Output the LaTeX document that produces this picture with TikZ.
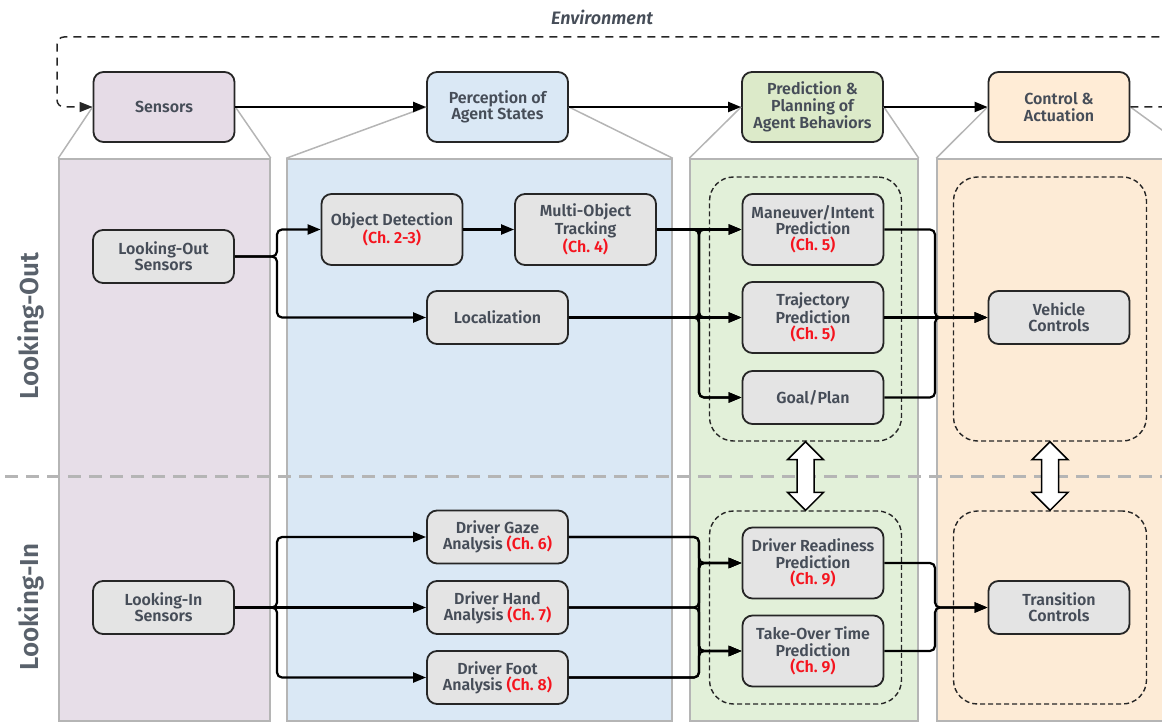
\documentclass[tikz,border=0pt]{standalone}
\usepackage{fontspec}
\setmainfont{Fira Sans}[BoldFont={Fira Sans SemiBold},BoldItalicFont={Fira Sans SemiBold Italic}]
\usepackage{tikz}
\usetikzlibrary{calc,arrows.meta}
\definecolor{Ink}{HTML}{464D58}
\definecolor{SideInk}{HTML}{59616B}
\definecolor{ChRed}{HTML}{F5141E}
\definecolor{BoxGrey}{HTML}{E4E4E4}
\definecolor{Guide}{HTML}{B5B5B5}
\definecolor{SensFill}{HTML}{E6DCE7}
\definecolor{PercFill}{HTML}{DAE8F5}
\definecolor{PredFill}{HTML}{DCEAC9}
\definecolor{CtrlFill}{HTML}{FFECD6}
\definecolor{SensPanel}{HTML}{E7DEE8}
\definecolor{PercPanel}{HTML}{DAE8F5}
\definecolor{PredPanel}{HTML}{E2F0D9}
\definecolor{CtrlPanel}{HTML}{FDEBD6}
\newcommand{\chnum}[1]{\textcolor{ChRed}{(Ch.~#1)}}

\begin{document}
\begin{tikzpicture}[x=1pt,y=-1pt,
 lab/.style={font=\fontsize{16}{16.2}\selectfont\bfseries,text=Ink,align=center},
 stage/.style={lab,draw=black!85,line width=1.8pt,rounded corners=10pt,
   minimum width=141pt,minimum height=70pt,inner sep=2pt},
 box/.style={stage,fill=BoxGrey},
 short/.style={minimum height=53pt},
 tall/.style={minimum height=71pt},
 panel/.style={draw=Guide,line width=1.5pt,minimum height=562pt,inner sep=0pt},
 grp/.style={draw=black!85,line width=1.4pt,dash pattern=on 5pt off 3pt,
   rounded corners=24pt,inner sep=0pt},
 arr/.style={line width=2.2pt,rounded corners=5pt,-{Triangle[length=13pt,width=10pt]}},
 side/.style={font=\fontsize{26}{26}\selectfont\bfseries,text=SideInk,rotate=90}]
\useasboundingbox (0,0) rectangle (1162,722);

% columns
\node[panel,fill=SensPanel,minimum width=211pt] (pSens) at (164.5,440) {};
\node[panel,fill=PercPanel,minimum width=385pt] (pPerc) at (479.5,440) {};
\node[panel,fill=PredPanel,minimum width=228pt] (pPred) at (804,440) {};
\node[panel,fill=CtrlPanel,minimum width=263pt] (pCtrl) at (1068.5,440) {};
\draw[Guide,line width=3pt,dash pattern=on 13pt off 8pt] (5,476) -- (1170,476);

% top row
\node[stage,fill=SensFill] (sens) at (164,107) {Sensors};
\node[stage,fill=PercFill] (perc) at (497.5,107) {Perception of\\Agent States};
\node[stage,fill=PredFill] (pred) at (812.5,107) {Prediction \&\\Planning of\\Agent Behaviors};
\node[stage,fill=CtrlFill] (ctrl) at (1059,107) {Control \&\\Actuation};
\foreach \b/\p in {sens/pSens,perc/pPerc,pred/pPred,ctrl/pCtrl} {
  \draw[Guide,line width=1.5pt] (\b.west) -- (\p.north west);
  \draw[Guide,line width=1.5pt] (\b.east) -- (\p.north east);}
\draw[arr] (sens) -- (perc);
\draw[arr] (perc) -- (pred);
\draw[arr] (pred) -- (ctrl);

% environment loop
\coordinate (envR) at (1190,107);
\coordinate (envL) at (57,37);
\draw[arr,dash pattern=on 8pt off 6pt,rounded corners=7pt,line width=1.5pt,black!85]
  (ctrl.east) -- (envR) |- (envL) |- (sens.west);
\node[lab,font=\fontsize{18}{18}\selectfont\bfseries\itshape] (env) at (602,17) {Environment};

\node[side] (lout) at (31,326) {Looking-Out};
\node[side] (lin) at (31,607) {Looking-In};

% groups
\node[grp,minimum width=192pt,minimum height=264pt] (gu) at (805.5,309) {};
\node[grp,minimum width=192pt,minimum height=193pt] (gl) at (805.5,607.5) {};
\node[grp,minimum width=193pt,minimum height=264pt] (ou) at (1050,309) {};
\node[grp,minimum width=193pt,minimum height=193pt] (ol) at (1050,607.5) {};

% looking-out
\node[box,short] (los) at (163.5,256.5) {Looking-Out\\Sensors};
\node[box,tall] (od) at (392,229.5) {Object Detection\\\chnum{2-3}};
\node[box,tall] (mot) at (585.5,229.5) {Multi-Object\\Tracking\\\chnum{4}};
\node[box,short] (loc) at (497.5,317.5) {Localization};
\node[box,tall] (mi) at (813,229.5) {Maneuver/Intent\\Prediction\\\chnum{5}};
\node[box,tall] (tp) at (813,317.5) {Trajectory\\Prediction\\\chnum{5}};
\node[box,short] (gp) at (813,397.5) {Goal/Plan};
\node[box,short] (vc) at (1059,317.5) {Vehicle\\Controls};

% looking-in
\node[box,short] (lis) at (163.5,607.5) {Looking-In\\Sensors};
\node[box,short] (gaze) at (497.5,537) {Driver Gaze\\Analysis \chnum{6}};
\node[box,short] (hand) at (497.5,607.5) {Driver Hand\\Analysis \chnum{7}};
\node[box,short] (foot) at (497.5,677.5) {Driver Foot\\Analysis \chnum{8}};
\node[box,tall] (dr) at (813,563) {Driver Readiness\\Prediction\\\chnum{9}};
\node[box,tall] (tot) at (813,651) {Take-Over Time\\Prediction\\\chnum{9}};
\node[box,short] (tc) at (1059,607.5) {Transition\\Controls};

\coordinate (bl) at (277,0);
\coordinate (inG) at (699,0);
\coordinate (outG) at (935,0);

\foreach \a/\b in {los/od,los/loc,lis/gaze,lis/foot}
  \draw[arr] (\a.east) -- (\a.east -| bl) |- (\b.west);
\foreach \a/\b in {mot/tp,mot/gp,loc/mi,loc/gp,gaze/dr,gaze/tot,hand/dr,hand/tot,foot/dr,foot/tot}
  \draw[arr] (\a.east) -- (\a.east -| inG) |- (\b.west);
\foreach \a/\b in {mi/vc,gp/vc,dr/tc,tot/tc}
  \draw[arr] (\a.east) -- (\a.east -| outG) |- (\b.west);
\draw[arr] (od) -- (mot);
\draw[arr] (lis) -- (hand);
\draw[arr] (mot) -- (mi);
\draw[arr] (loc) -- (tp);
\draw[arr] (tp) -- (vc);

% hand-over arrows
\foreach \u/\l in {gu/gl,ou/ol} {
  \coordinate (t) at (\u.south);
  \coordinate (b) at (\l.north);
  \draw[line width=1.5pt,fill=white,line join=miter]
    (t) -- ++(18,18) -- ++(-9.5,0) -- ($(b)+(8.5,-18)$) -- ++(9.5,0) -- (b)
    -- ++(-18,-18) -- ++(9.5,0) -- ($(t)+(-8.5,18)$) -- ++(-9.5,0) -- cycle;}
\end{tikzpicture}
\end{document}
